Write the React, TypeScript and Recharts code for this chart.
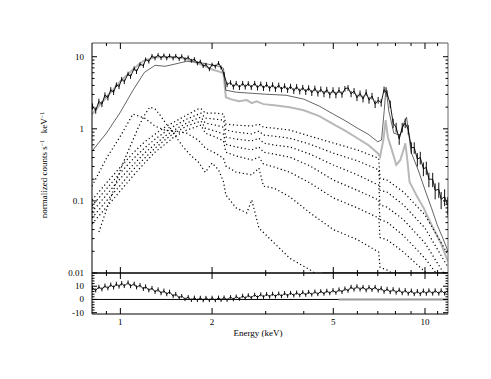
import { ComposedChart, Line, XAxis, YAxis, ReferenceLine, Label, ErrorBar } from 'recharts';

const FONT = "'Liberation Serif', 'DejaVu Serif', serif";

// observed spectrum (keV, counts/s/keV), its errors, and residuals
const energy = [
  0.81, 0.83, 0.85, 0.87, 0.89, 0.91, 0.93, 0.95, 0.97, 0.99,
  1.01, 1.03, 1.06, 1.08, 1.11, 1.13, 1.16, 1.19, 1.21, 1.24,
  1.27, 1.30, 1.33, 1.36, 1.39, 1.42, 1.45, 1.49, 1.52, 1.56,
  1.59, 1.63, 1.67, 1.71, 1.75, 1.79, 1.83, 1.87, 1.91, 1.96,
  2.00, 2.05, 2.10, 2.14, 2.19, 2.24, 2.30, 2.35, 2.40, 2.46,
  2.52, 2.57, 2.63, 2.69, 2.76, 2.82, 2.89, 2.95, 3.02, 3.09,
  3.16, 3.23, 3.31, 3.38, 3.46, 3.54, 3.62, 3.71, 3.79, 3.88,
  3.97, 4.06, 4.15, 4.25, 4.35, 4.45, 4.55, 4.66, 4.76, 4.87,
  4.99, 5.10, 5.22, 5.34, 5.46, 5.59, 5.72, 5.85, 5.98, 6.12,
  6.26, 6.41, 6.55, 6.70, 6.86, 7.02, 7.18, 7.34, 7.51, 7.69,
  7.86, 8.04, 8.23, 8.42, 8.61, 8.81, 9.02, 9.22, 9.44, 9.65,
  9.88, 10.1, 10.3, 10.6, 10.8, 11.1, 11.3, 11.6, 11.85,
];
const counts = [
  2.05, 1.8, 2.4, 2.2, 2.95, 2.7, 3.5, 3.2, 4.1, 3.85,
  4.9, 4.5, 5.8, 5.3, 6.9, 6.2, 7.9, 7.5, 9.2, 8.6,
  10.3, 9.5, 10.6, 9.6, 10.5, 9.5, 10.4, 9.5, 10.3, 9.3,
  10.2, 9.2, 9.8, 8.8, 9.3, 8.1, 8.6, 7.4, 7.8, 6.7,
  7.8, 7.3, 8.2, 7.1, 5.7, 4.1, 4.4, 3.8, 4.3, 3.75,
  4.3, 3.8, 4.25, 3.75, 4.3, 3.7, 4.2, 3.65, 4.15, 3.6,
  4.1, 3.55, 4.05, 3.5, 3.95, 3.45, 3.9, 3.35, 3.85, 3.3,
  3.75, 3.25, 3.7, 3.15, 3.65, 3.1, 3.55, 3.05, 3.5, 2.95,
  3.45, 2.95, 3.45, 3.0, 3.6, 3.7, 3.05, 3.35, 2.7, 3.1,
  2.6, 3.2, 2.5, 2.85, 2.2, 2.5, 2.3, 3.5, 3.1, 2.2,
  1.2, 1.05, 0.72, 1.05, 1.2, 0.98, 0.55, 0.55, 0.38, 0.40,
  0.28, 0.29, 0.20, 0.2, 0.14, 0.145, 0.105, 0.115, 0.088,
];
const countsErr = [
  0.2, 0.18, 0.22, 0.2, 0.25, 0.23, 0.28, 0.26, 0.3, 0.3,
  0.35, 0.33, 0.4, 0.38, 0.45, 0.43, 0.5, 0.5, 0.55, 0.55,
  0.6, 0.6, 0.6, 0.6, 0.6, 0.6, 0.6, 0.6, 0.6, 0.6,
  0.6, 0.6, 0.6, 0.55, 0.55, 0.5, 0.5, 0.45, 0.45, 0.4,
  0.45, 0.45, 0.5, 0.45, 0.4, 0.32, 0.32, 0.3, 0.32, 0.3,
  0.32, 0.3, 0.32, 0.3, 0.32, 0.3, 0.32, 0.3, 0.32, 0.3,
  0.32, 0.3, 0.32, 0.3, 0.32, 0.3, 0.32, 0.3, 0.32, 0.3,
  0.32, 0.3, 0.32, 0.3, 0.32, 0.3, 0.32, 0.3, 0.32, 0.3,
  0.32, 0.3, 0.32, 0.3, 0.32, 0.34, 0.3, 0.32, 0.28, 0.3,
  0.28, 0.32, 0.27, 0.3, 0.26, 0.27, 0.27, 0.36, 0.33, 0.26,
  0.18, 0.16, 0.12, 0.16, 0.18, 0.15, 0.1, 0.1, 0.08, 0.08,
  0.06, 0.06, 0.045, 0.045, 0.035, 0.035, 0.028, 0.03, 0.025,
];
const residual = [
  8.5, 6.8, 9.5, 7.6, 10.4, 8.4, 11.2, 9.0, 11.8, 9.7,
  12.3, 10.1, 12.8, 10.0, 11.9, 9.1, 10.8, 7.9, 9.8, 6.9,
  8.6, 5.7, 7.5, 4.7, 6.6, 3.9, 5.8, 2.5, 4.1, 1.1,
  2.7, 0.1, 1.9, -0.6, 1.5, -0.7, 1.4, -0.8, 1.3, -0.7,
  1.4, -0.8, 1.5, -0.6, 1.6, -0.5, 1.9, -0.1, 2.3, 0.3,
  2.8, 0.8, 3.2, 1.2, 3.6, 1.5, 3.9, 1.8, 4.1, 2.0,
  4.3, 2.2, 4.5, 2.4, 4.8, 2.7, 5.0, 2.9, 5.2, 3.1,
  5.5, 3.4, 5.7, 3.6, 6.0, 3.9, 6.3, 4.2, 6.6, 4.6,
  7.0, 5.0, 7.5, 5.6, 8.2, 6.5, 9.5, 7.4, 9.9, 7.5,
  9.4, 6.9, 9.3, 7.2, 9.4, 6.7, 8.5, 5.8, 8.0, 5.5,
  7.7, 5.1, 7.3, 4.7, 7.0, 4.4, 6.6, 4.0, 6.3, 4.0,
  6.6, 4.3, 6.8, 4.4, 6.8, 4.4, 6.8, 4.5, 6.6,
];
const residualErr = [
  1.6, 1.5, 1.6, 1.5, 1.6, 1.5, 1.6, 1.5, 1.6, 1.5,
  1.6, 1.5, 1.6, 1.5, 1.6, 1.5, 1.6, 1.5, 1.6, 1.5,
  1.6, 1.5, 1.6, 1.5, 1.6, 1.5, 1.6, 1.5, 1.6, 1.5,
  1.4, 1.3, 1.4, 1.3, 1.4, 1.3, 1.4, 1.3, 1.4, 1.3,
  1.4, 1.3, 1.4, 1.3, 1.4, 1.3, 1.4, 1.3, 1.4, 1.3,
  1.5, 1.4, 1.5, 1.4, 1.5, 1.4, 1.5, 1.4, 1.5, 1.4,
  1.5, 1.4, 1.5, 1.4, 1.5, 1.4, 1.5, 1.4, 1.5, 1.4,
  1.5, 1.4, 1.5, 1.4, 1.5, 1.4, 1.5, 1.4, 1.5, 1.4,
  1.6, 1.5, 1.6, 1.5, 1.6, 1.5, 1.6, 1.5, 1.6, 1.5,
  1.6, 1.5, 1.6, 1.5, 1.6, 1.5, 1.6, 1.5, 1.6, 1.5,
  1.6, 1.5, 1.6, 1.5, 1.6, 1.5, 1.6, 1.5, 1.6, 1.5,
  1.6, 1.5, 1.6, 1.5, 1.6, 1.5, 1.6, 1.5, 1.6,
];

// grey total model
const modelE = [
  0.807, 0.85, 0.9, 0.95, 1.0, 1.05, 1.1, 1.15, 1.2, 1.3, 1.4, 1.5, 1.6, 1.7, 1.8,
  1.9, 2.0, 2.1, 2.18, 2.22, 2.3, 2.45, 2.6, 2.7, 2.8, 2.95, 3.2, 3.6, 4.0, 4.5,
  5.0, 5.5, 6.0, 6.5, 7.0, 7.12, 7.3, 7.43, 7.55, 7.75, 8.05, 8.3, 8.5, 8.62, 8.75,
  8.9, 9.4, 9.9, 10.35, 10.8, 11.3, 11.55, 11.9,
];
const modelV = [
  1.59, 2.06, 2.74, 3.54, 4.57, 5.53, 6.66, 7.85, 8.92, 9.81, 9.81, 9.81, 9.5, 8.92, 8.1,
  7.37, 6.66, 6.27, 5.89, 2.74, 2.58, 2.41, 2.5, 2.27, 2.41, 2.2, 2.12, 1.99, 1.81, 1.5,
  1.16, 0.93, 0.74, 0.6, 0.46, 0.41, 0.7, 1.32, 0.77, 0.54, 0.315, 0.37, 0.51, 0.63, 0.37,
  0.183, 0.117, 0.08, 0.053, 0.037, 0.0255, 0.02, 0.0145,
];

// thin solid component
const thinE = [
  0.807, 0.9, 1.0, 1.1, 1.2, 1.3, 1.4, 1.5, 1.65, 1.8, 1.95, 2.1, 2.18, 2.22, 2.4,
  2.7, 3.0, 3.5, 4.0, 4.5, 5.0, 5.5, 6.0, 6.5, 7.0, 7.2, 7.35, 7.45, 7.6, 7.9,
  8.3, 8.55, 8.7, 9.0, 9.5, 10, 10.5, 11, 11.5, 11.9,
];
const thinV = [
  0.49, 0.87, 1.7, 3.43, 6.08, 7.6, 7.37, 7.85, 8.64, 8.37, 7.85, 7.37, 6.91, 3.43, 3.22,
  3.11, 3.02, 2.92, 2.58, 2.06, 1.6, 1.28, 1.02, 0.845, 0.66, 0.7, 1.81, 3.77, 1.81, 0.87,
  0.82, 1.24, 1.45, 0.476, 0.268, 0.142, 0.08, 0.045, 0.029, 0.02,
];

// dotted components on a shared grid
const compE = [
  0.807, 0.9, 1.0, 1.1, 1.2, 1.3, 1.4, 1.5, 1.65, 1.8, 1.84, 1.9, 2.05, 2.18, 2.22,
  2.4, 2.7, 2.85, 2.95, 3.2, 3.6, 4.2, 5.0, 6.0, 7.05, 7.12, 7.5, 8.5, 10, 11.9,
];
const comp1 = [
  0.103, 0.177, 0.295, 0.46, 0.656, 0.843, 1.055, 1.24, 1.55, 1.88, 1.91, 1.65, 1.65, 1.6, 1.16,
  1.125, 1.09, 1.16, 1.055, 1.02, 0.96, 0.79, 0.635, 0.51, 0.39, 0.205, 0.195, 0.133, 0.064, 0.018,
];
const comp2 = [
  0.085, 0.147, 0.246, 0.38, 0.54, 0.72, 0.9, 1.09, 1.36, 1.59, 1.65, 1.41, 1.36, 1.32, 0.96,
  0.9, 0.85, 0.93, 0.82, 0.79, 0.74, 0.61, 0.46, 0.36, 0.27, 0.14, 0.133, 0.088, 0.042, 0.012,
];
const comp3 = [
  0.07, 0.121, 0.205, 0.315, 0.46, 0.61, 0.79, 0.96, 1.2, 1.41, 1.45, 1.2, 1.125, 1.055, 0.77,
  0.72, 0.68, 0.74, 0.635, 0.595, 0.56, 0.445, 0.315, 0.23, 0.165, 0.088, 0.082, 0.055, 0.026, 0.008,
];
const comp4 = [
  0.058, 0.1, 0.165, 0.27, 0.39, 0.54, 0.7, 0.87, 1.09, 1.24, 1.28, 1.02, 0.93, 0.845, 0.61,
  0.56, 0.51, 0.56, 0.475, 0.445, 0.405, 0.305, 0.195, 0.14, 0.103, 0.055, 0.051, 0.033, 0.016, 0.006,
];
const comp5 = [
  0.048, 0.082, 0.138, 0.222, 0.335, 0.475, 0.61, 0.77, 0.96, 1.09, 1.125, 0.87, 0.77, 0.68, 0.475,
  0.42, 0.37, 0.405, 0.325, 0.295, 0.25, 0.177, 0.11, 0.08, 0.058, 0.031, 0.029, 0.0195, 0.0104, 0.0043,
];
const comp6 = [
  0.16, 0.39, 0.79, 1.6, 1.41, 1.09, 0.96, 0.93, 0.87, 0.7, 0.635, 0.54, 0.46, 0.39, 0.305,
  0.25, 0.23, 0.285, 0.16, 0.15, 0.114, 0.068, 0.04, 0.029, 0.0195, 0.012, 0.011, 0.008, 0.005, 0.0024,
];
// soft component that peaks near 1.25 keV and falls off quickly
const softE = [
  0.85, 0.9, 0.95, 1.0, 1.05, 1.1, 1.15, 1.2, 1.25, 1.3, 1.35, 1.4, 1.5, 1.6, 1.7,
  1.8, 1.84, 1.9, 2.0, 2.1, 2.18, 2.22, 2.4, 2.6, 2.7, 2.85, 3.2, 3.6, 4.2, 4.6,
];
const softV = [
  0.037, 0.075, 0.142, 0.27, 0.445, 0.7, 1.09, 1.55, 2.0, 1.88, 1.55, 1.24, 0.845, 0.575, 0.43,
  0.35, 0.305, 0.25, 0.335, 0.27, 0.185, 0.121, 0.08, 0.068, 0.103, 0.042, 0.026, 0.016, 0.011, 0.0085,
];

const xTicks = [0.9, 1, 2, 3, 4, 5, 6, 7, 8, 9, 10, 11];
const xMajor = [1, 2, 5, 10];
const yTicks = [
  0.01, 0.02, 0.03, 0.04, 0.05, 0.06, 0.07, 0.08, 0.09,
  0.1, 0.2, 0.3, 0.4, 0.5, 0.6, 0.7, 0.8, 0.9,
  1, 2, 3, 4, 5, 6, 7, 8, 9, 10,
];
const yMajor = [0.01, 0.1, 1, 10];
const resTicks = [-10, -8, -6, -4, -2, 0, 2, 4, 6, 8, 10, 12, 14, 16, 18];
const resMajor = [-10, 0, 10];

const X_DOMAIN = [0.807, 11.9];

const pts = (xs: number[], ys: number[], errs?: number[]) =>
  xs.map((e, i) => ({ e, v: ys[i], err: errs ? errs[i] : 0 }));

// inward ticks on a horizontal edge; labels only under the lower panel
const xTick = (edgeY: number, dir: number, showLabel: boolean) => (props: any) => {
  const { x, payload } = props;
  const major = xMajor.includes(payload.value);
  const len = major ? 6 : 3;
  return (
    <g>
      <line x1={x} x2={x} y1={edgeY} y2={edgeY + dir * len} stroke="#000" />
      {showLabel && major && (
        <text x={x} y={edgeY + 11} textAnchor="middle" fontSize={9} fontFamily={FONT} fill="#000">
          {payload.value}
        </text>
      )}
    </g>
  );
};

const yTick = (edgeX: number, dir: number, majors: number[], showLabel: boolean) => (props: any) => {
  const { y, payload } = props;
  const major = majors.includes(payload.value);
  const len = major ? 5 : 2.5;
  return (
    <g>
      <line x1={edgeX} x2={edgeX + dir * len} y1={y} y2={y} stroke="#000" />
      {showLabel && major && (
        <text x={edgeX - 8} y={y + 3} textAnchor="end" fontSize={9} fontFamily={FONT} fill="#000">
          {String(payload.value)}
        </text>
      )}
    </g>
  );
};

const dotted = { stroke: '#000', strokeWidth: 1.2, strokeDasharray: '1.2 2.6', dot: false, isAnimationActive: false };

export default function App() {
  return (
    <div style={{ position: 'absolute', left: 0, top: 0, width: 491, height: 379, background: '#fff' }}>
      {/* spectrum panel */}
      <div style={{ position: 'absolute', left: 0, top: 0 }}>
        <ComposedChart width={491} height={280} margin={{ top: 33, right: 0, bottom: 0, left: 0 }}>
          <XAxis dataKey="e" type="number" scale="log" domain={X_DOMAIN} allowDataOverflow ticks={xTicks}
            interval={0} height={7} tickLine={false} axisLine={{ stroke: '#000' }} tick={xTick(273, -1, false)} />
          <XAxis xAxisId="top" orientation="top" dataKey="e" type="number" scale="log" domain={X_DOMAIN}
            allowDataOverflow ticks={xTicks} interval={0} height={10} tickLine={false}
            axisLine={{ stroke: '#555' }} tick={xTick(43, 1, false)} />
          <YAxis dataKey="v" type="number" scale="log" domain={[0.01, 15.5]} allowDataOverflow ticks={yTicks}
            interval={0} width={92} tickLine={false} axisLine={{ stroke: '#000' }} tick={yTick(92, 1, yMajor, true)}>
            <Label
              content={() => (
                <text transform="translate(47,165) rotate(-90)" textAnchor="middle" fontSize={9} fontFamily={FONT} fill="#000">
                  normalized counts s<tspan dy={-3} fontSize={6}>−1</tspan>
                  <tspan dy={3}>{'\u00a0\u00a0\u00a0keV'}</tspan>
                  <tspan dy={-3} fontSize={6}>−1</tspan>
                </text>
              )}
            />
          </YAxis>
          <YAxis yAxisId="right" orientation="right" type="number" scale="log" domain={[0.01, 15.5]}
            allowDataOverflow ticks={yTicks} interval={0} width={43} tickLine={false}
            axisLine={{ stroke: '#666' }} tick={yTick(448, -1, yMajor, false)} />

          <Line data={pts([4.6, 11.9], [0.01, 0.01])} dataKey="v" stroke="#999" strokeWidth={2} dot={false} isAnimationActive={false} />
          <Line data={pts(modelE, modelV)} dataKey="v" stroke="#b8b8b8" strokeWidth={2} dot={false} isAnimationActive={false} />
          <Line data={pts(thinE, thinV)} dataKey="v" stroke="#222" strokeWidth={0.7} dot={false} isAnimationActive={false} />
          <Line data={pts(compE, comp1)} dataKey="v" {...dotted} />
          <Line data={pts(compE, comp2)} dataKey="v" {...dotted} />
          <Line data={pts(compE, comp3)} dataKey="v" {...dotted} />
          <Line data={pts(compE, comp4)} dataKey="v" {...dotted} />
          <Line data={pts(compE, comp5)} dataKey="v" {...dotted} />
          <Line data={pts(compE, comp6)} dataKey="v" {...dotted} />
          <Line data={pts(softE, softV)} dataKey="v" {...dotted} />
          <Line data={pts(energy, counts, countsErr)} dataKey="v" stroke="#000" strokeWidth={0.9} dot={false} isAnimationActive={false}>
            <ErrorBar dataKey="err" direction="y" width={0} stroke="#111" strokeWidth={1} />
          </Line>
        </ComposedChart>
      </div>

      {/* residual panel */}
      <div style={{ position: 'absolute', left: 0, top: 263 }}>
        <ComposedChart width={491} height={90} margin={{ top: 0, right: 0, bottom: 0, left: 0 }}>
          <XAxis dataKey="e" type="number" scale="log" domain={X_DOMAIN} allowDataOverflow ticks={xTicks}
            interval={0} height={39} tickLine={false} axisLine={{ stroke: '#000' }} tick={xTick(51, -1, true)}>
            <Label
              content={() => (
                <text x={258} y={73} textAnchor="middle" fontSize={9} fontFamily={FONT} fill="#000">
                  Energy (keV)
                </text>
              )}
            />
          </XAxis>
          <XAxis xAxisId="top" orientation="top" dataKey="e" type="number" scale="log" domain={X_DOMAIN}
            allowDataOverflow ticks={xTicks} interval={0} height={10} tickLine={false}
            axisLine={{ stroke: '#000' }} tick={xTick(10, 1, false)} />
          <YAxis dataKey="v" type="number" domain={[-11, 20]} allowDataOverflow ticks={resTicks} interval={0}
            width={92} tickLine={false} axisLine={{ stroke: '#000' }} tick={yTick(92, 1, resMajor, true)} />
          <YAxis yAxisId="right" orientation="right" type="number" domain={[-11, 20]} allowDataOverflow
            ticks={resTicks} interval={0} width={43} tickLine={false} axisLine={{ stroke: '#666' }}
            tick={yTick(448, -1, resMajor, false)} />

          <ReferenceLine y={0} stroke="#000" />
          <Line data={pts([5.2, 11.9], [0, 0])} dataKey="v" stroke="#999" strokeWidth={2} dot={false} isAnimationActive={false} />
          <Line data={pts(energy, residual, residualErr)} dataKey="v" stroke="#000" strokeWidth={0.9} dot={false} isAnimationActive={false}>
            <ErrorBar dataKey="err" direction="y" width={0} stroke="#111" strokeWidth={1} />
          </Line>
        </ComposedChart>
      </div>
    </div>
  );
}
